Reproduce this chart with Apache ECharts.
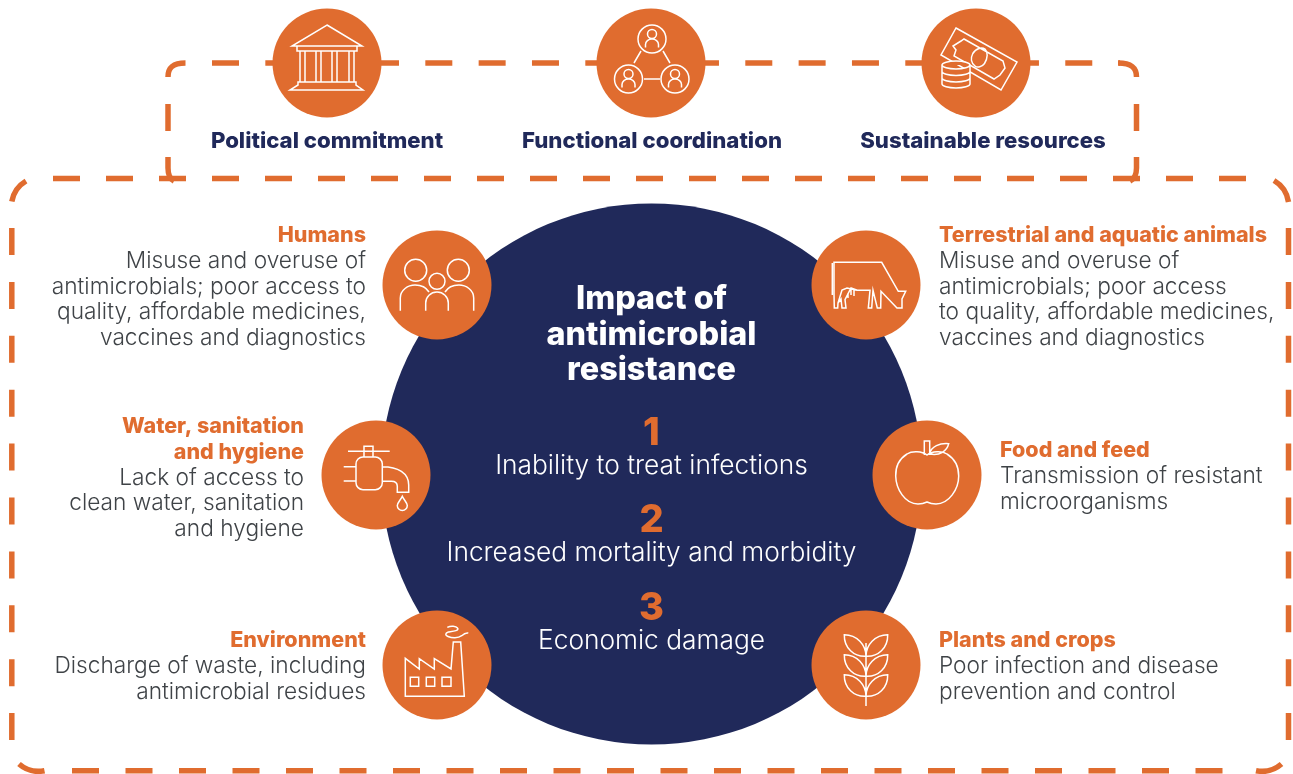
<!DOCTYPE html>
<html>
<head>
<meta charset="utf-8">
<title>Impact of antimicrobial resistance</title>
<script src="https://cdn.jsdelivr.net/npm/echarts@6/dist/echarts.min.js"></script>
<style>
html,body{margin:0;padding:0;background:#fff;}
#main{width:1293px;height:774px;}
</style>
</head>
<body>
<div id="main"></div>
<script>
// texts
var pillarLabels=["Political commitment","Functional coordination","Sustainable resources"];
var centerTitle=["Impact of","antimicrobial","resistance"];
var impactNumbers=["1","2","3"];
var impactLabels=["Inability to treat infections","Increased mortality and morbidity","Economic damage"];
var hubHeads=[["Humans"],["Terrestrial and aquatic animals"],["Water, sanitation","and hygiene"],["Food and feed"],["Environment"],["Plants and crops"]];
var hubBodies=[
    ["Misuse and overuse of","antimicrobials; poor access to","quality, affordable medicines,","vaccines and diagnostics"],
    ["Misuse and overuse of","antimicrobials; poor access","to quality, affordable medicines,","vaccines and diagnostics"],
    ["Lack of access to","clean water, sanitation","and hygiene"],
    ["Transmission of resistant","microorganisms"],
    ["Discharge of waste, including","antimicrobial residues"],
    ["Poor infection and disease","prevention and control"]
];
// circle centres, in page pixels, read through the hidden axes below
var pillarX=[327,651,976];
var pillarY=[63,63,63];
var hubX=[437,866,376,927,437,866];
var hubY=[285,285,475,475,665,665];
var coreX=[651.5];
var coreY=[474];

var ORANGE="#e06c2f",NAVY="#20295a",GREY="#3f4347",WHITE="#fff";
var FONT="Inter, 'Noto Sans', sans-serif";

// icons, drawn round the centre of their circle
function person(x,y){
    return "M"+(x+14)+" "+y+"A14 14 0 1 1 "+(x-14)+" "+y+"A14 14 0 1 1 "+(x+14)+" "+y+"Z"+
        "M"+(x+4.5)+" "+(y-5)+"A4.5 4.5 0 1 1 "+(x-4.5)+" "+(y-5)+"A4.5 4.5 0 1 1 "+(x+4.5)+" "+(y-5)+"Z"+
        "M"+(x-6.5)+" "+(y+8.5)+"V"+(y+5.5)+"A6.5 5.5 0 0 1 "+(x+6.5)+" "+(y+5.5)+"V"+(y+8.5);
}
function coinStack(){
    return "M-34 2A14 4 0 1 1 -6 2A14 4 0 1 1 -34 2Z"+
        "M-34 2V21A14 4 0 0 0 -6 21V2"+
        "M-34 8.5A14 4 0 0 0 -6 8.5M-34 15A14 4 0 0 0 -6 15";
}
var pillarIcons=[
    ["M0 -38L35 -17H-35ZM-30 -17V-12H30V-17"+
     "M-27 -12V19M-22 -12V19M-11 -12V19M-6 -12V19M5 -12V19M10 -12V19M22 -12V19M27 -12V19"+
     "M-29 19H29V22L36 27H-37L-29 22Z"],
    [person(1,-24)+person(-22.5,16)+person(24,16)+"M-7 16H9M-10 -12L-17 0M12 -12L19 0"],
    ["M-20 -35L41 -1L25 27L-35 -8Z"+
     "M-12 -24L27 -2L29 5L24 12L18 16L-22 -7L-20 -13L-23 -17L-15 -22Z"+
     "M-3.2 -9.5C0 -15 6 -16 9 -14C12 -11 12 -5 8.5 0.5C6 4 1.5 5 -1 3C-5 0 -5.5 -5 -3.2 -9.5Z",coinStack()]
];
var hubIcons=[
    ["M-10.3 -14.7A11 11 0 1 1 -32.3 -14.7A11 11 0 1 1 -10.3 -14.7Z"+
     "M32.3 -14.7A11 11 0 1 1 10.3 -14.7A11 11 0 1 1 32.3 -14.7Z"+
     "M8 -3.7A8 8 0 1 1 -8 -3.7A8 8 0 1 1 8 -3.7Z"+
     "M-36.7 25.7V13C-36.7 5 -29 0 -22 0C-16 0 -11 2 -8 7"+
     "M36.7 25.7V13C36.7 5 29 0 22 0C16 0 11 2 8 7"+
     "M-11.3 25.7V18A11.3 11 0 0 1 11.3 18V25.7"],
    ["M-32 9V-22.7H15.7L32.3 6.3H39.7L36 14V23H31L15 6.3L14.7 23H11.3L7 5.3L5.7 23H2.3L4 5.3H-8.7L-15 3L-21 14.7L-20 23H-24L-25 14L-28 18L-28.3 23H-31.7L-32 9Z"+
     "M-33.7 -22V10M-28 18L-24 5L-19 3L-9 5.3M-15 3V10M-12 4V11M-18 8V13"],
    ["M-28 -23.7H13.7M-12 -18V-28.7H-3V-18"+
     "M-13 -18H-1A7 7 0 0 1 6.3 -11V7.7A7 7 0 0 1 -1 14.7H-13A7 7 0 0 1 -20 7.7V-11A7 7 0 0 1 -13 -18Z"+
     "M-32.3 -8.3H-20M-32.3 6H-20"+
     "M6.3 -8.3C22 -8.3 32.7 -2 32.7 10V17.3H21.3V11.3C21.3 8 19 6.3 15.3 6.3H6.3"+
     "M26.3 21.3C28 25 31.3 28 31.3 30.5A5 5 0 0 1 21.3 30.5C21.3 28 24.6 25 26.3 21.3Z"],
    ["M0 -20C-5 -24 -15 -24.5 -20 -21C-28 -16 -31.5 -8 -31.3 1C-31 14 -22 29 -9 29C-5 29 -2 28 0 27C2 28 5 29 9 29C22 29 31.7 14 31.7 1C31.7 -8 28 -16 20 -21C15 -24.5 5 -24 0 -20Z"+
     "M-2.7 -20V-34H2.7V-20M2.7 -21C4 -29 13 -32 21.7 -31.3C20 -24 13 -19 2.7 -21Z"],
    ["M-31.7 -6.7V31.3H27.3L23.7 -23H16.3L14 4L-2.7 -6.3V4L-17.7 -6.3V4Z"+
     "M-26.7 12.3H-18.3V21.3H-26.7ZM-10.7 12.3H-2.3V21.3H-10.7ZM5 12.3H14V21.3H5Z"+
     "M10.3 -37.7C14 -39.5 19 -39 20.5 -37C23 -34 14 -33.5 11.3 -33C8 -32 8 -29.5 11 -28.5C15 -26.8 21 -26.5 24.7 -29.3C26.5 -31 29 -32.5 31.3 -32"],
    ["M0 -8.7C0 -20 -9 -30.3 -21.7 -30.3C-22 -17 -12 -8 0 -8.7Z"+
     "M0 -8.7C0 -20 9 -30.3 21.7 -30.3C22 -17 12 -8 0 -8.7Z"+
     "M0 11.3C0 0 -9 -10.3 -21.7 -10.3C-22 3 -12 12 0 11.3Z"+
     "M0 11.3C0 0 9 -10.3 21.7 -10.3C22 3 12 12 0 11.3Z"+
     "M0 31.3C0 20 -9 9.7 -21.7 9.7C-22 23 -12 32 0 31.3Z"+
     "M0 31.3C0 20 9 9.7 21.7 9.7C22 23 12 32 0 31.3Z"+
     "M0 -22V41"]
];
// rounded ends of the dashed frames
var cornerPaths=[
    "M168 77C168 68 172 63 185.5 63",
    "M1118 63C1132 63 1136.5 68 1136.5 77",
    "M168 157V168C168 175 170 179 174 181",
    "M1136.5 157V168C1136.5 175 1134 179 1130 181",
    "M11.8 201.5A30 30 0 0 1 26 181",
    "M1274 180.5A30 30 0 0 1 1288.5 202",
    "M19 764A30 30 0 0 0 44.5 770.7",
    "M1256 770.7A30 30 0 0 0 1281.5 764"
];

var els=[];

function dashLine(x1,y1,x2,y2,gap){
    els.push({type:"line",z:1,silent:true,shape:{x1:x1,y1:y1,x2:x2,y2:y2},
        style:{stroke:ORANGE,lineWidth:5.5,lineDash:[27,gap],lineCap:"butt"}});
}
function txt(s,x,y,align,size,weight,color){
    els.push({type:"text",z:10,silent:true,x:x,y:y,style:{text:s,align:align,verticalAlign:"middle",
        font:weight+" "+size+"px "+FONT,fill:color}});
}

// dashed frames
dashLine(212,63,1120,63,26.33);
dashLine(168,104,168,135,26);
dashLine(1136.5,104,1136.5,135,26);
dashLine(53,178.5,1248,178.5,26);
dashLine(11.8,228,11.8,740,26.9);
dashLine(1288.5,228,1288.5,740,26.9);
dashLine(72,770.7,1245,770.7,26.5);

// top row
pillarLabels.forEach(function(s,i){
    txt(s,[327,652,983][i],141,"center",22.2,800,NAVY);
});

// centre of the disc
centerTitle.forEach(function(s,i){
    txt(s,651.5,[299.5,335,370][i],"center",32.3,800,WHITE);
});
impactNumbers.forEach(function(s,i){
    txt(s,651.5,[434,520.5,608.5][i],"center",38,800,ORANGE);
});
impactLabels.forEach(function(s,i){
    txt(s,651.5,[466.5,553.5,641][i],"center",26.3,300,WHITE);
});

// captions
var capX=[366,939,304,1000,366,939];
var capY=[236,236,427,451,641,641];
hubHeads.forEach(function(head,i){
    var align=i%2==0?"right":"left";
    var y=capY[i];
    head.forEach(function(s){
        txt(s,capX[i],y,align,21.5,800,ORANGE);
        y+=25.5;
    });
    hubBodies[i].forEach(function(s){
        txt(s,capX[i],y,align,22.7,300,GREY);
        y+=25.5;
    });
});

function toPairs(xs,ys){
    return xs.map(function(x,i){return [x,ys[i]];});
}
var allIcons=pillarIcons.concat(hubIcons);
var iconPoints=toPairs(pillarX,pillarY).concat(toPairs(hubX,hubY));

function renderIcon(params,api){
    var pt=api.coord([api.value(0),api.value(1)]);
    return {type:"group",x:pt[0],y:pt[1],silent:true,
        children:allIcons[params.dataIndex].map(function(d,i){
            return {type:"path",shape:{pathData:d},
                style:{fill:i>0?ORANGE:"none",stroke:WHITE,lineWidth:1.5}};
        })};
}
function renderCorner(params,api){
    return {type:"path",silent:true,shape:{pathData:cornerPaths[params.dataIndex]},
        style:{fill:"none",stroke:ORANGE,lineWidth:5.5}};
}

var myChart=echarts.init(document.getElementById("main"),null,{renderer:"canvas"});
myChart.setOption({
    animation:false,
    backgroundColor:"#fff",
    grid:{left:0,right:0,top:0,bottom:0},
    xAxis:{type:"value",min:0,max:1293,show:false},
    yAxis:{type:"value",min:0,max:774,inverse:true,show:false},
    series:[
        {type:"custom",z:1,silent:true,renderItem:renderCorner,clip:false,data:cornerPaths.map(function(d,i){return [i,0];})},
        {type:"scatter",z:2,silent:true,symbolSize:541,itemStyle:{color:NAVY,opacity:1},data:toPairs(coreX,coreY)},
        {type:"scatter",z:3,silent:true,symbolSize:109,itemStyle:{color:ORANGE,opacity:1},data:toPairs(hubX,hubY)},
        {type:"scatter",z:3,silent:true,symbolSize:109,itemStyle:{color:ORANGE,opacity:1},data:toPairs(pillarX,pillarY)},
        {type:"custom",z:6,silent:true,renderItem:renderIcon,clip:false,data:iconPoints}
    ],
    graphic:{elements:els}
});
</script>
</body>
</html>
